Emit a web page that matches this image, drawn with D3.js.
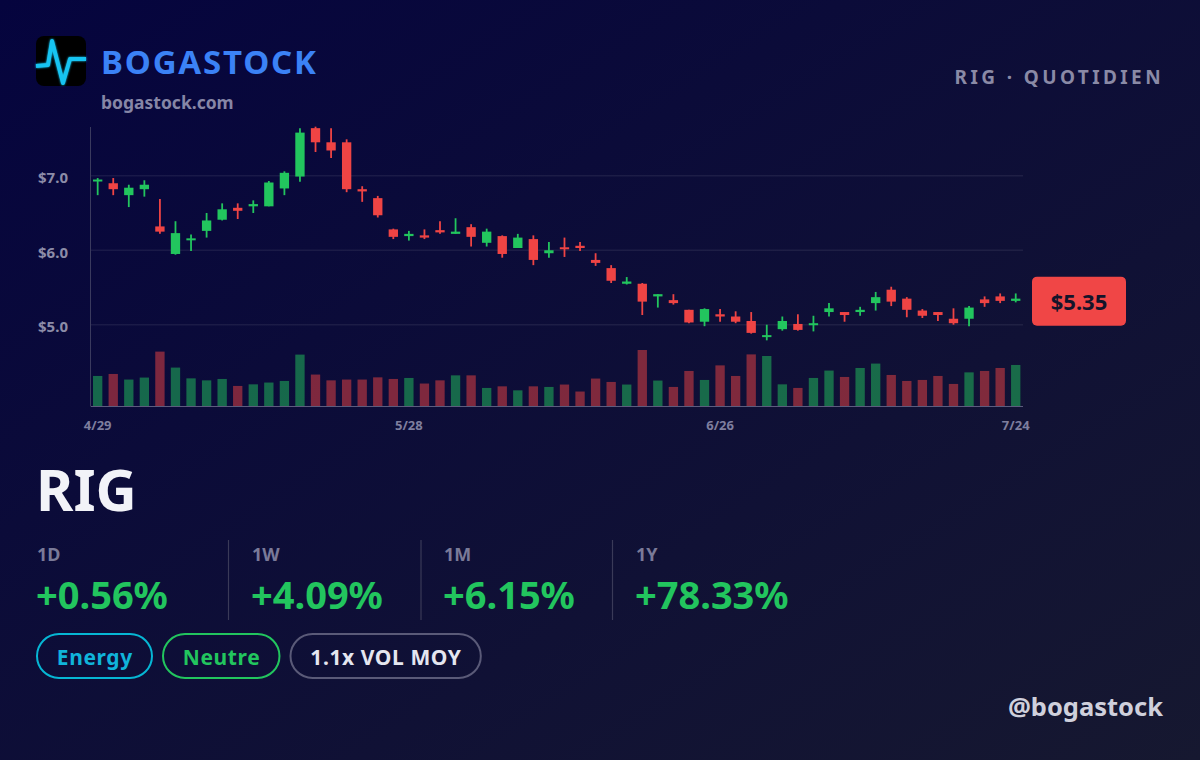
<!DOCTYPE html>
<html><head><meta charset="utf-8">
<script src="https://cdn.jsdelivr.net/npm/d3@7"></script>
<style>html,body{margin:0;padding:0;background:#0a0a35;} svg{display:block;font-family:"Noto Sans",sans-serif;}</style>
</head><body><svg id="c" width="1200" height="760"></svg>
<script>
const dates = ["4/29","4/30","5/1","5/2","5/3","5/6","5/7","5/8","5/9","5/10","5/13","5/14","5/15","5/16","5/17","5/20","5/21","5/22","5/23","5/24","5/28","5/29","5/30","5/31","6/3","6/4","6/5","6/6","6/7","6/10","6/11","6/12","6/13","6/14","6/17","6/18","6/20","6/21","6/24","6/25","6/26","6/27","6/28","7/1","7/2","7/3","7/5","7/8","7/9","7/10","7/11","7/12","7/15","7/16","7/17","7/18","7/19","7/22","7/23","7/24"];
const opens  = [6.93,6.90,6.74,6.82,6.32,5.95,6.15,6.26,6.41,6.57,6.59,6.59,6.83,6.99,7.64,7.45,7.45,6.82,6.70,6.28,6.19,6.20,6.27,6.22,6.31,6.10,6.19,6.03,6.15,5.96,6.04,6.06,5.87,5.76,5.55,5.55,5.38,5.33,5.20,5.04,5.14,5.11,5.05,4.84,4.94,5.01,5.00,5.17,5.17,5.17,5.29,5.47,5.35,5.19,5.17,5.08,5.08,5.34,5.38,5.32];
const highs  = [6.97,6.97,6.88,6.94,6.69,6.39,6.21,6.50,6.63,6.63,6.67,6.93,7.06,7.64,7.66,7.64,7.49,6.86,6.73,6.29,6.26,6.28,6.39,6.43,6.35,6.29,6.20,6.22,6.20,6.11,6.17,6.11,5.96,5.80,5.64,5.56,5.41,5.41,5.20,5.22,5.21,5.18,5.17,5.00,5.11,5.14,5.12,5.29,5.17,5.24,5.44,5.51,5.37,5.21,5.17,5.22,5.25,5.38,5.42,5.42];
const lows   = [6.74,6.74,6.58,6.72,6.22,5.94,5.99,6.17,6.40,6.42,6.50,6.59,6.74,6.92,7.32,7.24,6.78,6.65,6.44,6.15,6.13,6.15,6.22,6.22,6.05,6.05,5.90,6.03,5.80,5.90,5.91,5.99,5.79,5.56,5.54,5.13,5.23,5.27,5.02,4.98,5.04,5.02,4.88,4.79,4.92,4.92,4.91,5.11,5.04,5.12,5.19,5.25,5.10,5.09,5.05,5.00,4.98,5.24,5.29,5.30];
const closes = [6.95,6.82,6.84,6.88,6.25,6.23,6.16,6.40,6.55,6.53,6.62,6.91,7.04,7.58,7.45,7.34,6.82,6.79,6.47,6.18,6.22,6.17,6.24,6.25,6.18,6.25,5.95,6.17,5.87,6.00,6.02,6.03,5.83,5.59,5.58,5.31,5.41,5.29,5.03,5.21,5.11,5.04,4.89,4.86,5.05,4.93,5.02,5.22,5.13,5.20,5.37,5.31,5.20,5.12,5.13,5.02,5.23,5.29,5.32,5.35];
const volumes = [15.2,16.2,13.4,14.4,27.4,19.4,14.0,13.0,13.7,10.2,11.0,11.9,12.7,25.9,15.9,13.0,13.4,13.4,14.5,13.7,14.2,11.4,13.0,15.5,15.5,9.2,10.0,8.0,10.0,9.7,10.9,7.4,13.9,12.2,10.9,28.2,12.9,9.7,17.7,13.2,20.5,15.2,26.0,25.2,11.0,9.2,14.2,17.9,14.7,19.2,21.4,15.7,12.7,13.2,15.2,11.2,17.0,17.7,19.2,20.7];
const priceTicks = [5, 6, 7];
const dateTicks = ["4/29", "5/28", "6/26", "7/24"];
const ticker = "RIG";
const statLabels = ["1D", "1W", "1M", "1Y"];
const statValues = ["+0.56%", "+4.09%", "+6.15%", "+78.33%"];
const pills = ["Energy", "Neutre", "1.1x VOL MOY"];

const GREEN = "#22c55e", RED = "#ef4444";
const svg = d3.select("#c");
const defs = svg.append("defs");
const bg = defs.append("linearGradient").attr("id","bg").attr("x1",0).attr("y1",0).attr("x2",1).attr("y2",1);
bg.append("stop").attr("offset",0).attr("stop-color","#05043e");
bg.append("stop").attr("offset",1).attr("stop-color","#161830");
svg.append("rect").attr("width",1200).attr("height",760).attr("fill","url(#bg)");
const glow = defs.append("filter").attr("id","glow").attr("x","-20%").attr("y","-20%").attr("width","140%").attr("height","140%");
glow.append("feGaussianBlur").attr("stdDeviation",1.2).attr("result","b");
const fm = glow.append("feMerge"); fm.append("feMergeNode").attr("in","b"); fm.append("feMergeNode").attr("in","SourceGraphic");

// Header
const logo = svg.append("g").attr("transform","translate(36,36)");
logo.append("rect").attr("width",50).attr("height",50).attr("rx",8).attr("fill","#000");
logo.append("path").attr("d","M0,30 L12,29 L16,5 L27,47 L34,23 L50,23")
  .attr("fill","none").attr("stroke","#18c4f2").attr("stroke-width",4).attr("stroke-linejoin","round").attr("filter","url(#glow)");
svg.append("text").attr("x",101).attr("y",73.5).attr("font-size",33).attr("font-weight",700)
  .attr("letter-spacing",1.8).attr("fill","#3b82f6").text("BOGASTOCK");
svg.append("text").attr("x",101).attr("y",108.5).attr("font-size",17.5).attr("font-weight",700)
  .attr("fill","#8686a6").text("bogastock.com");
svg.append("text").attr("x",1164).attr("y",84).attr("font-size",19).attr("font-weight",700)
  .attr("letter-spacing",3.4).attr("text-anchor","end").attr("fill","#8a8aa6").text(ticker + " · QUOTIDIEN");

// Scales
const x = d3.scaleBand().domain(dates).range([89.9, 1023.5]).paddingInner(0.4).paddingOuter(0.2);
const y = d3.scaleLinear().domain([5, 7]).range([324.7, 175.8]);
const yv = d3.scaleLinear().domain([0, d3.max(volumes)]).range([406.3, 350]);
const cx = d => x(d) + x.bandwidth()/2;

// Grid
const g = svg.append("g");
g.selectAll("line.grid").data(priceTicks).join("line")
  .attr("x1",91).attr("x2",1023).attr("y1",d=>y(d)).attr("y2",d=>y(d))
  .attr("stroke","#ffffff").attr("stroke-opacity",0.07).attr("stroke-width",1.5);
g.selectAll("text.yl").data(priceTicks).join("text")
  .attr("x",68).attr("y",d=>y(d)+7.5).attr("text-anchor","end").attr("font-size",15).attr("font-weight",700)
  .attr("fill","#8c8ca8").text(d=>"$"+d.toFixed(1));
g.append("line").attr("x1",90.5).attr("x2",90.5).attr("y1",127).attr("y2",406.5)
  .attr("stroke","#3a3a5e").attr("stroke-width",1);

// Volume
const idx = d3.range(dates.length);
g.selectAll("rect.vol").data(idx).join("rect")
  .attr("x",i=>x(dates[i])).attr("width",x.bandwidth())
  .attr("y",i=>yv(volumes[i])).attr("height",i=>yv(0)-yv(volumes[i]))
  .attr("fill",i=>closes[i]>=opens[i]?GREEN:RED).attr("fill-opacity",0.5);
g.append("line").attr("x1",91).attr("x2",1023).attr("y1",406.5).attr("y2",406.5)
  .attr("stroke","#5c5c7e").attr("stroke-width",1);

// Candles
const c = g.selectAll("g.candle").data(idx).join("g");
c.append("line").attr("x1",i=>cx(dates[i])).attr("x2",i=>cx(dates[i]))
  .attr("y1",i=>y(highs[i])).attr("y2",i=>y(lows[i]))
  .attr("stroke",i=>closes[i]>=opens[i]?GREEN:RED).attr("stroke-width",1.8);
c.append("rect").attr("x",i=>x(dates[i])).attr("width",x.bandwidth())
  .attr("y",i=>y(Math.max(opens[i],closes[i])))
  .attr("height",i=>Math.max(2, Math.abs(y(opens[i])-y(closes[i]))))
  .attr("fill",i=>closes[i]>=opens[i]?GREEN:RED);

// X labels
g.selectAll("text.xl").data(dateTicks).join("text")
  .attr("x",d=>cx(d)).attr("y",430).attr("text-anchor","middle").attr("font-size",13).attr("font-weight",700)
  .attr("fill","#7e7e9e").text(d=>d);

// Price tag
const last = closes[closes.length-1];
const tag = svg.append("g").attr("transform",`translate(1032,${y(last)-22})`);
tag.append("rect").attr("width",94).attr("height",49).attr("rx",5).attr("fill","#f04646");
tag.append("text").attr("x",47).attr("y",33).attr("text-anchor","middle").attr("font-size",22).attr("font-weight",700)
  .attr("fill","#14142a").text("$"+last.toFixed(2));

// Bottom section
svg.append("text").attr("x",36).attr("y",511).attr("font-size",57).attr("font-weight",700).attr("fill","#f2f3f8").text(ticker);
const colX = [37, 252, 444, 636];
const sepX = [228.5, 421, 612.5];
svg.selectAll("line.sep").data(sepX).join("line").attr("x1",d=>d).attr("x2",d=>d).attr("y1",540).attr("y2",620)
  .attr("stroke","#3a3a58").attr("stroke-width",1.2);
svg.selectAll("text.sl").data(statLabels).join("text").attr("x",(d,i)=>colX[i]).attr("y",561)
  .attr("font-size",18).attr("font-weight",700).attr("fill","#7a7a98").text(d=>d);
svg.selectAll("text.sv").data(statValues).join("text").attr("x",(d,i)=>colX[i]-1).attr("y",609)
  .attr("font-size",38).attr("font-weight",700).attr("fill",GREEN).text(d=>d);

// Pills
const pillStyles = [{s:"#06b6d4",t:"#10b4da"},{s:GREEN,t:GREEN},{s:"#5a5a78",t:"#e4e6f0"}];
let px = 37;
pills.forEach((p,i)=>{
  const pg = svg.append("g");
  const t = pg.append("text").attr("y",664.5).attr("font-size",21).attr("font-weight",700)
    .attr("letter-spacing",0.6).attr("fill",pillStyles[i].t).text(p);
  const w = t.node().getComputedTextLength();
  const pw = w + 39;
  pg.insert("rect","text").attr("x",px).attr("y",634).attr("width",pw).attr("height",44).attr("rx",22)
    .attr("fill","none").attr("stroke",pillStyles[i].s).attr("stroke-width",2);
  t.attr("x",px+pw/2+0.3).attr("text-anchor","middle");
  px += pw + 11;
});

svg.append("text").attr("x",1163).attr("y",716).attr("text-anchor","end").attr("font-size",25.5).attr("font-weight",700)
  .attr("fill","#cfd0dc").text("@bogastock");
</script></body></html>
